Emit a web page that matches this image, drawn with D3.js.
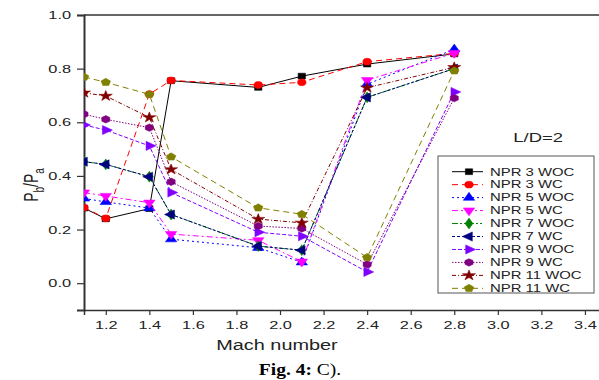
<!DOCTYPE html>
<html>
<head>
<meta charset="utf-8">
<script src="https://cdn.jsdelivr.net/npm/d3@7"></script>
<style>
  body { margin: 0; background: #fff; }
  svg { display: block; font-family: "Liberation Sans", Arial, sans-serif; }
</style>
</head>
<body>
<div id="chart"></div>
<script>
// Mach numbers (x) and base pressure ratio Pb/Pa for each NPR case
const machNumbers = [1.1, 1.2, 1.4, 1.5, 1.9, 2.1, 2.4, 2.8];

const npr3WOC  = [0.280, 0.240, 0.278, 0.755, 0.730, 0.772, 0.817, 0.855];
const npr3WC   = [0.282, 0.242, 0.705, 0.756, 0.739, 0.749, 0.826, 0.857];
const npr5WOC  = [0.316, 0.303, 0.280, 0.164, 0.132, 0.078, 0.742, 0.872];
const npr5WC   = [0.338, 0.325, 0.300, 0.183, 0.160, 0.080, 0.757, 0.858];
const npr7WOC  = [0.453, 0.443, 0.397, 0.256, 0.138, 0.123, 0.693, 0.800];
const npr7WC   = [0.453, 0.443, 0.397, 0.256, 0.138, 0.123, 0.693, 0.800];
const npr9WOC  = [0.590, 0.571, 0.512, 0.338, 0.190, 0.175, 0.042, 0.713];
const npr9WC   = [0.630, 0.611, 0.580, 0.378, 0.213, 0.204, 0.070, 0.690];
const npr11WOC = [0.710, 0.698, 0.618, 0.424, 0.239, 0.225, 0.729, 0.805];
const npr11WC  = [0.769, 0.749, 0.704, 0.471, 0.281, 0.257, 0.096, 0.792];

const seriesNames = ["NPR 3 WOC", "NPR 3 WC", "NPR 5 WOC", "NPR 5 WC", "NPR 7 WOC",
                     "NPR 7 WC", "NPR 9 WOC", "NPR 9 WC", "NPR 11 WOC", "NPR 11 WC"];
const seriesValues = [npr3WOC, npr3WC, npr5WOC, npr5WC, npr7WOC,
                      npr7WC, npr9WOC, npr9WC, npr11WOC, npr11WC];

const xTicks = [1.2, 1.4, 1.6, 1.8, 2.0, 2.2, 2.4, 2.6, 2.8, 3.0, 3.2, 3.4];
const yTicks = [0.0, 0.2, 0.4, 0.6, 0.8, 1.0];

// styles per series (Origin-like)
const colors = ["#000000", "#ff0000", "#0000ff", "#ff00ff", "#008000",
                "#000080", "#8000ff", "#800080", "#800000", "#808000"];
const dashes = ["none", "6,4", "2,3", "6,3,2,3", "6,2,2,2,2,2",
                "3,2", "4,2", "1.5,1.5", "4,2,1,2", "6,4"];

// extra marker shapes
const hexagon = {
    draw(ctx, size) {
        const r = Math.sqrt(2 * size / (3 * Math.sqrt(3)));
        for (let i = 0; i < 6; i++) {
            const a = Math.PI / 6 + i * Math.PI / 3;
            i ? ctx.lineTo(r * Math.cos(a), r * Math.sin(a)) : ctx.moveTo(r * Math.cos(a), r * Math.sin(a));
        }
        ctx.closePath();
    }
};
const pentagon = {
    draw(ctx, size) {
        const r = Math.sqrt(size / (2.5 * Math.sin(2 * Math.PI / 5)));
        for (let i = 0; i < 5; i++) {
            const a = -Math.PI / 2 + i * 2 * Math.PI / 5;
            i ? ctx.lineTo(r * Math.cos(a), r * Math.sin(a)) : ctx.moveTo(r * Math.cos(a), r * Math.sin(a));
        }
        ctx.closePath();
    }
};
const markers = [
    {type: d3.symbolSquare, size: 34, rot: 0},
    {type: d3.symbolCircle, size: 36, rot: 0},
    {type: d3.symbolTriangle, size: 36, rot: 0},
    {type: d3.symbolTriangle, size: 36, rot: 180},
    {type: d3.symbolDiamond, size: 34, rot: 0},
    {type: d3.symbolTriangle, size: 36, rot: -90},
    {type: d3.symbolTriangle, size: 36, rot: 90},
    {type: hexagon, size: 36, rot: 0},
    {type: d3.symbolStar, size: 34, rot: 0},
    {type: pentagon, size: 38, rot: 0}
];

const W = 599, H = 380;
const sx = 1.42; // the figure is stretched horizontally
const margin = {top: 15, left: 84, bottom: 310};

const svg = d3.select("#chart").append("svg")
    .attr("width", W)
    .attr("height", H);

const x = d3.scaleLinear().domain([1.1, 3.5]).range([84, 84 + 2.4 * 217.8]);
const y = d3.scaleLinear().domain([-0.1, 1.0]).range([310, 15]);

svg.append("clipPath").attr("id", "plot-clip")
    .append("rect")
    .attr("x", x(1.1)).attr("y", y(1.0))
    .attr("width", x(3.5) - x(1.1)).attr("height", y(-0.1) - y(1.0));

// frame top
svg.append("line")
    .attr("x1", x(1.1)).attr("x2", x(3.5))
    .attr("y1", y(1.0)).attr("y2", y(1.0))
    .attr("stroke", "#333").attr("stroke-width", 1.3);

// axes
const xAxis = svg.append("g")
    .attr("transform", `translate(0,${y(-0.1)})`)
    .call(d3.axisBottom(x).tickValues(xTicks).tickFormat(d3.format(".1f")).tickSize(5).tickPadding(6));
xAxis.select(".domain").attr("stroke", "#333").attr("stroke-width", 1.5);
xAxis.selectAll(".tick line").attr("stroke", "#333").attr("stroke-width", 1.2);
xAxis.selectAll(".tick text")
    .attr("font-size", 11.5)
    .attr("fill", "#222")
    .attr("font-family", "Liberation Sans, Arial, sans-serif")
    .attr("transform", `scale(${sx},1)`);

const yAxis = svg.append("g")
    .attr("transform", `translate(${x(1.1)},0)`)
    .call(d3.axisLeft(y).tickValues(yTicks).tickFormat(d3.format(".1f")).tickSize(7).tickPadding(6));
yAxis.select(".domain").attr("stroke", "#333").attr("stroke-width", 2);
yAxis.selectAll(".tick line").attr("stroke", "#333").attr("stroke-width", 1.2);
yAxis.selectAll(".tick text")
    .attr("font-size", 11.5)
    .attr("fill", "#222")
    .attr("font-family", "Liberation Sans, Arial, sans-serif")
    .attr("x", -13 / sx)
    .attr("transform", `scale(${sx},1)`);

// axis titles
svg.append("text")
    .attr("transform", `translate(${(x(1.1) + 600) / 2 - 65},350) scale(${sx},1)`)
    .attr("text-anchor", "middle")
    .attr("font-size", 14)
    .attr("fill", "#222")
    .text("Mach number");

const yTitle = svg.append("text")
    .attr("transform", `translate(38,185) scale(${sx},1) rotate(-90)`)
    .attr("text-anchor", "middle")
    .attr("font-size", 14)
    .attr("fill", "#222");
yTitle.append("tspan").text("P");
yTitle.append("tspan").attr("font-size", 10).attr("dy", 4).text("b");
yTitle.append("tspan").attr("dy", -4).text("/P");
yTitle.append("tspan").attr("font-size", 10).attr("dy", 4).text("a");

// series
const line = d3.line()
    .x(d => x(d.x))
    .y(d => y(d.y));

const plot = svg.append("g").attr("clip-path", "url(#plot-clip)");

const symbolPath = i => d3.symbol().type(markers[i].type).size(markers[i].size)();

seriesValues.forEach((vals, i) => {
    const pts = vals.map((v, j) => ({x: machNumbers[j], y: v}));
    plot.append("path")
        .datum(pts)
        .attr("d", line)
        .attr("fill", "none")
        .attr("stroke", colors[i])
        .attr("stroke-width", 1)
        .attr("stroke-dasharray", dashes[i]);
    plot.append("g")
        .selectAll("path")
        .data(pts)
        .join("path")
        .attr("d", symbolPath(i))
        .attr("transform", d => `translate(${x(d.x)},${y(d.y)}) scale(1.25,1) rotate(${markers[i].rot})`)
        .attr("fill", colors[i])
        .attr("stroke", colors[i])
        .attr("stroke-width", 0.5);
});

// legend
const legend = svg.append("g");
legend.append("rect")
    .attr("x", 438).attr("y", 156)
    .attr("width", 156).attr("height", 137)
    .attr("fill", "#fff")
    .attr("stroke", "#555")
    .attr("stroke-width", 1);

seriesNames.forEach((name, i) => {
    const ly = 171.7 + i * 12.96;
    legend.append("line")
        .attr("x1", 452).attr("x2", 483)
        .attr("y1", ly).attr("y2", ly)
        .attr("stroke", colors[i])
        .attr("stroke-width", 1)
        .attr("stroke-dasharray", dashes[i]);
    legend.append("path")
        .attr("d", symbolPath(i))
        .attr("transform", `translate(469,${ly}) scale(1.25,1) rotate(${markers[i].rot})`)
        .attr("fill", colors[i])
        .attr("stroke", colors[i])
        .attr("stroke-width", 0.5);
    legend.append("text")
        .attr("transform", `translate(490,${ly + 3.8}) scale(${sx},1)`)
        .attr("font-size", 10.5)
        .attr("fill", "#222")
        .text(name);
});

svg.append("text")
    .attr("transform", `translate(563,142) scale(${sx},1)`)
    .attr("text-anchor", "end")
    .attr("font-size", 13)
    .attr("fill", "#222")
    .text("L/D=2");

// caption
const cap = svg.append("text")
    .attr("transform", "translate(300,375) scale(1.15,1)")
    .attr("text-anchor", "middle")
    .attr("font-family", "Liberation Serif, Times New Roman, serif")
    .attr("font-size", 17)
    .attr("fill", "#000");
cap.append("tspan").attr("font-weight", "bold").text("Fig. 4:");
cap.append("tspan").text(" C).");
</script>
</body>
</html>
